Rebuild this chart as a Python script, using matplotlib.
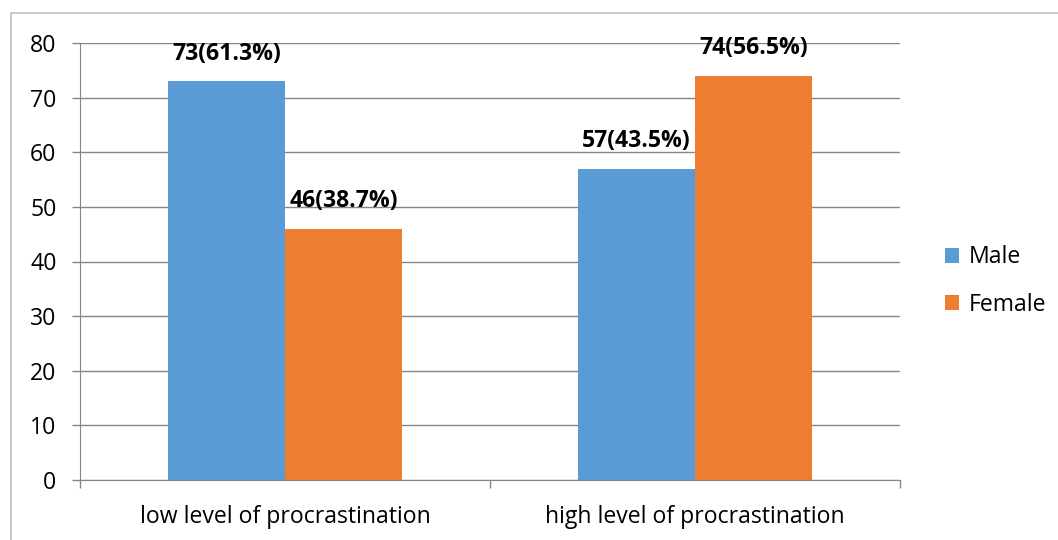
import matplotlib.pyplot as plt
import numpy as np
from matplotlib.patches import Rectangle

categories = ['low level of procrastination', 'high level of procrastination']
male = [73, 57]
female = [46, 74]
male_labels = ['73(61.3%)', '57(43.5%)']
female_labels = ['46(38.7%)', '74(56.5%)']

plt.rcParams['font.family'] = ['Open Sans', 'DejaVu Sans']
fs = 16.6

fig = plt.figure(figsize=(10.58, 5.4), dpi=100)
ax = fig.add_axes([80 / 1058, 1 - 480 / 540, 820 / 1058, 437 / 540])

# outer chart border
fig.patches.append(Rectangle((11 / 1058, -0.1), 1.2, 1 - 13 / 540 + 0.1,
                             transform=fig.transFigure, fill=False,
                             edgecolor='#bfbfbf', linewidth=1.2))

x = np.arange(len(categories))
w = 0.285
b1 = ax.bar(x - w / 2, male, w, color='#5b9bd5', label='Male')
b2 = ax.bar(x + w / 2, female, w, color='#ed7d31', label='Female')

for bars, labels in ((b1, male_labels), (b2, female_labels)):
    for bar, lab in zip(bars, labels):
        ax.annotate(lab, (bar.get_x() + bar.get_width() / 2, bar.get_height()),
                    xytext=(0, 11), textcoords='offset points',
                    ha='center', va='bottom', fontsize=fs, fontweight='bold')

ax.set_xlim(-0.5, 1.5)
ax.set_ylim(0, 80)
ax.set_yticks(range(0, 81, 10))
ax.yaxis.grid(True, color='#868686', linewidth=1)
ax.set_axisbelow(True)

ax.set_xticks(x)
ax.set_xticklabels(categories)
ax.set_xticks([-0.5, 0.5, 1.5], minor=True)
ax.tick_params(axis='x', which='major', length=0, pad=18, labelsize=fs)
ax.tick_params(axis='x', which='minor', length=6, color='#868686', width=1)
ax.tick_params(axis='y', length=6, color='#868686', width=1, labelsize=fs, pad=11)

for s in ('top', 'right'):
    ax.spines[s].set_visible(False)
ax.spines['left'].set_color('#868686')
ax.spines['bottom'].set_color('#868686')

ax.legend(loc='center left', bbox_to_anchor=(924 / 1058, 1 - 281 / 540),
          bbox_transform=fig.transFigure, frameon=False, fontsize=fs,
          handlelength=0.6, handleheight=0.6, handletextpad=0.45, labelspacing=1.0)

fig.savefig('out.png', dpi=100)
